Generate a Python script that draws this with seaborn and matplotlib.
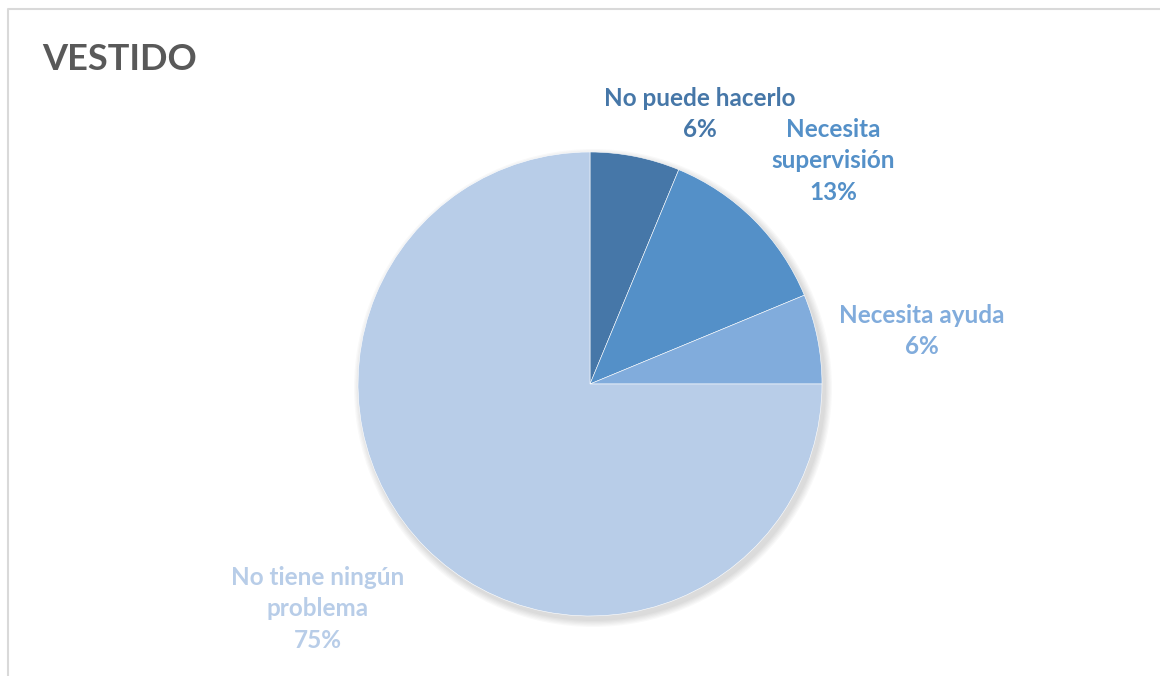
import seaborn as sns
import matplotlib.pyplot as plt
from matplotlib.patches import Circle

# Datos del gráfico
categorias = ["No puede hacerlo", "Necesita\nsupervisión", "Necesita ayuda", "No tiene ningún\nproblema"]
valores = [1, 2, 1, 12]
porcentajes = ["6%", "13%", "6%", "75%"]
colores = ["#4677A8", "#5490C8", "#81ACDC", "#B8CDE8"]
titulo = "VESTIDO"

sns.set_theme(style="white")
plt.rcParams['font.family'] = ['Lato', 'DejaVu Sans']

fig = plt.figure(figsize=(11.6, 6.76), dpi=100)
ax = fig.add_axes([0, 0, 1, 1])

# marco del gráfico (solo arriba e izquierda)
ax.plot([8, 8, 1160], [0, 667, 667], color="#D9D9D9", lw=1.5)

centro = (590, 292)
radio = 232

# sombra suave
for i in range(6):
    ax.add_patch(Circle((centro[0] + 3, centro[1] - 4), radio + 1 + i * 1.2,
                        color="black", alpha=0.025, lw=0, zorder=1))

wedges, _ = ax.pie(valores, colors=colores, startangle=90, counterclock=False,
                   center=centro, radius=radio, frame=True,
                   wedgeprops=dict(linewidth=0.4, edgecolor="white"))
for w in wedges:
    w.set_zorder(2)
ax.set_xlim(0, 1160)
ax.set_ylim(0, 676)
ax.axis("off")

# posiciones de las etiquetas (píxeles)
pos_etiquetas = [(700, 676 - 114), (833, 676 - 161), (922, 676 - 331), (318, 676 - 609)]
for cat, pct, col, (x, y) in zip(categorias, porcentajes, colores, pos_etiquetas):
    ax.text(x, y, f"{cat}\n{pct}", ha="center", va="center", fontsize=17.5,
            fontweight="bold", color=col, linespacing=1.45)

ax.text(42, 676 - 60, titulo, ha="left", va="center", fontsize=26,
        fontweight="bold", color="#595959")

fig.savefig("out.png", dpi=100)
